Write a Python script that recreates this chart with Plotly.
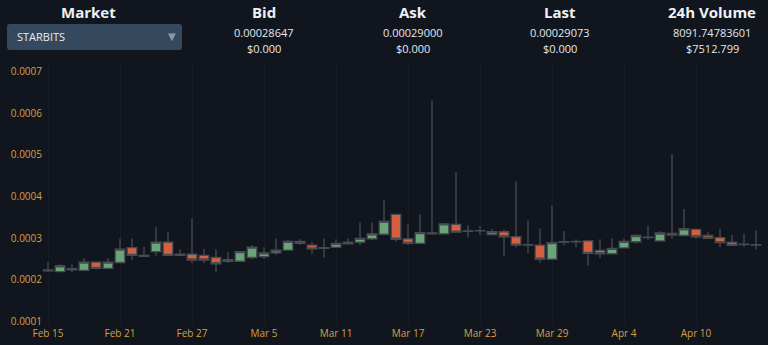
import pandas as pd
import plotly.graph_objects as go

dates = pd.date_range("2018-02-15", periods=60, freq="D")

open_ = [0.000223, 0.000219, 0.000226, 0.000222, 0.000242, 0.000227, 0.000241, 0.000277, 0.000258, 0.000267,
         0.000290, 0.000258, 0.000261, 0.000258, 0.000253, 0.000248, 0.000244, 0.000253, 0.000255, 0.000264,
         0.000271, 0.000292, 0.000283, 0.000275, 0.000278, 0.000286, 0.000290, 0.000298, 0.000309, 0.000357,
         0.000298, 0.000287, 0.000310, 0.000310, 0.000333, 0.000316, 0.000317, 0.000308, 0.000315, 0.000303,
         0.000283, 0.000283, 0.000249, 0.000290, 0.000291, 0.000293, 0.000270, 0.000262, 0.000276, 0.000291,
         0.000301, 0.000293, 0.000311, 0.000306, 0.000321, 0.000306, 0.000301, 0.000290, 0.000284, 0.000284]
high = [0.000243, 0.000237, 0.000237, 0.000252, 0.000243, 0.000252, 0.000298, 0.000298, 0.000279, 0.000327,
        0.000314, 0.000273, 0.000347, 0.000274, 0.000273, 0.000267, 0.000268, 0.000283, 0.000278, 0.000298,
        0.000296, 0.000297, 0.000291, 0.000298, 0.000297, 0.000299, 0.000338, 0.000337, 0.000392, 0.000358,
        0.000333, 0.000357, 0.000632, 0.000336, 0.000459, 0.000331, 0.000329, 0.000321, 0.000320, 0.000437,
        0.000343, 0.000323, 0.000378, 0.000317, 0.000297, 0.000295, 0.000297, 0.000299, 0.000298, 0.000309,
        0.000331, 0.000316, 0.000502, 0.000370, 0.000323, 0.000314, 0.000322, 0.000307, 0.000311, 0.000318]
low = [0.000218, 0.000218, 0.000218, 0.000221, 0.000224, 0.000226, 0.000239, 0.000247, 0.000255, 0.000257,
       0.000258, 0.000257, 0.000239, 0.000239, 0.000217, 0.000240, 0.000244, 0.000249, 0.000250, 0.000259,
       0.000270, 0.000283, 0.000261, 0.000253, 0.000277, 0.000285, 0.000283, 0.000295, 0.000308, 0.000291,
       0.000283, 0.000286, 0.000309, 0.000309, 0.000313, 0.000301, 0.000307, 0.000307, 0.000258, 0.000278,
       0.000263, 0.000241, 0.000248, 0.000282, 0.000278, 0.000233, 0.000251, 0.000261, 0.000275, 0.000287,
       0.000295, 0.000292, 0.000298, 0.000305, 0.000298, 0.000298, 0.000278, 0.000281, 0.000279, 0.000273]
close = [0.000221, 0.000233, 0.000223, 0.000242, 0.000227, 0.000242, 0.000273, 0.000258, 0.000256, 0.000290,
         0.000258, 0.000261, 0.000247, 0.000247, 0.000238, 0.000244, 0.000267, 0.000278, 0.000264, 0.000271,
         0.000292, 0.000287, 0.000274, 0.000277, 0.000287, 0.000290, 0.000299, 0.000310, 0.000340, 0.000297,
         0.000287, 0.000313, 0.000312, 0.000334, 0.000314, 0.000317, 0.000318, 0.000315, 0.000303, 0.000283,
         0.000284, 0.000249, 0.000289, 0.000291, 0.000292, 0.000263, 0.000262, 0.000275, 0.000292, 0.000306,
         0.000302, 0.000312, 0.000307, 0.000322, 0.000303, 0.000299, 0.000289, 0.000282, 0.000285, 0.000283]

x_tick_vals = ["2018-02-15", "2018-02-21", "2018-02-27", "2018-03-05", "2018-03-11",
               "2018-03-17", "2018-03-23", "2018-03-29", "2018-04-04", "2018-04-10"]
x_tick_text = ["Feb 15", "Feb 21", "Feb 27", "Mar 5", "Mar 11",
               "Mar 17", "Mar 23", "Mar 29", "Apr 4", "Apr 10"]
y_tick_vals = [0.0001, 0.0002, 0.0003, 0.0004, 0.0005, 0.0006, 0.0007]
y_tick_text = ["0.0001", "0.0002", "0.0003", "0.0004", "0.0005", "0.0006", "0.0007"]

market_name = "STARBITS"
header_titles = ["Market", "Bid", "Ask", "Last", "24h Volume"]
header_values = ["", "0.00028647", "0.00029000", "0.00029073", "8091.74783601"]
header_usd = ["", "$0.000", "$0.000", "$0.000", "$7512.799"]
header_px = [88, 264, 413, 560, 712]

W, H = 768, 345
L, R, T, B = 43, 0, 62, 19
PW, PH = W - L - R, H - T - B

def px(x):
    return (x - L) / PW

def py(y):
    return (H - B - y) / PH

BG = "#11151e"
FONT = "Open Sans, Noto Sans, sans-serif"

fig = go.Figure()
fig.add_trace(go.Candlestick(
    x=dates, open=open_, high=high, low=low, close=close,
    increasing=dict(fillcolor="#6aa57a", line=dict(color="#474b52", width=1.3)),
    decreasing=dict(fillcolor="#d4603f", line=dict(color="#474b52", width=1.3)),
    whiskerwidth=0, showlegend=False, hoverinfo="skip",
))

annotations = []
for t, v, u, xp in zip(header_titles, header_values, header_usd, header_px):
    annotations.append(dict(x=px(xp), y=py(12), xref="paper", yref="paper", text="<b>%s</b>" % t,
                            showarrow=False, font=dict(family=FONT, size=15, color="#eef1f4"),
                            xanchor="center", yanchor="middle"))
    if v:
        annotations.append(dict(x=px(xp), y=py(32), xref="paper", yref="paper", text=v,
                                showarrow=False, font=dict(family=FONT, size=11, color="#e4e8ec"),
                                xanchor="center", yanchor="middle"))
        annotations.append(dict(x=px(xp), y=py(48), xref="paper", yref="paper", text=u,
                                showarrow=False, font=dict(family=FONT, size=11, color="#e4e8ec"),
                                xanchor="center", yanchor="middle"))
annotations.append(dict(x=px(15), y=py(37), xref="paper", yref="paper", text=market_name,
                        showarrow=False, font=dict(family=FONT, size=11, color="#e8ecf0"),
                        xanchor="left", yanchor="middle"))
annotations.append(dict(x=px(172), y=py(36), xref="paper", yref="paper", text="▼",
                        showarrow=False, font=dict(family="DejaVu Sans", size=10, color="#8a9aa8"),
                        xanchor="center", yanchor="middle"))

# rounded dropdown box
x0, x1, y0, y1, r = px(7), px(182), py(24), py(50), 3
rx, ry = r / PW, r / PH
path = (f"M {x0+rx},{y0} L {x1-rx},{y0} Q {x1},{y0} {x1},{y0-ry} "
        f"L {x1},{y1+ry} Q {x1},{y1} {x1-rx},{y1} L {x0+rx},{y1} Q {x0},{y1} {x0},{y1+ry} "
        f"L {x0},{y0-ry} Q {x0},{y0} {x0+rx},{y0} Z")
shapes = [dict(type="path", xref="paper", yref="paper", path=path,
               fillcolor="#34495e", line=dict(width=0), layer="above")]

fig.update_layout(
    width=W, height=H,
    margin=dict(l=L, r=R, t=T, b=B),
    paper_bgcolor=BG, plot_bgcolor=BG,
    boxgap=0.2, boxgroupgap=0.0, boxmode="overlay",
    font=dict(family=FONT),
    annotations=annotations,
    shapes=shapes,
    xaxis=dict(
        type="date",
        range=["2018-02-14 14:00", "2018-04-16 00:00"],
        rangeslider=dict(visible=False),
        tickvals=x_tick_vals, ticktext=x_tick_text,
        tickfont=dict(family=FONT, size=10, color="#d4a043"),
        showgrid=True, gridcolor="#171c25", gridwidth=1,
        zeroline=False, showline=False, ticks="",
    ),
    yaxis=dict(
        range=[0.000088, 0.000724],
        tickvals=y_tick_vals, ticktext=y_tick_text,
        tickfont=dict(family=FONT, size=10, color="#d4a043"),
        showgrid=False, zeroline=False, showline=False, ticks="",
    ),
)

fig.write_html("out.html")
